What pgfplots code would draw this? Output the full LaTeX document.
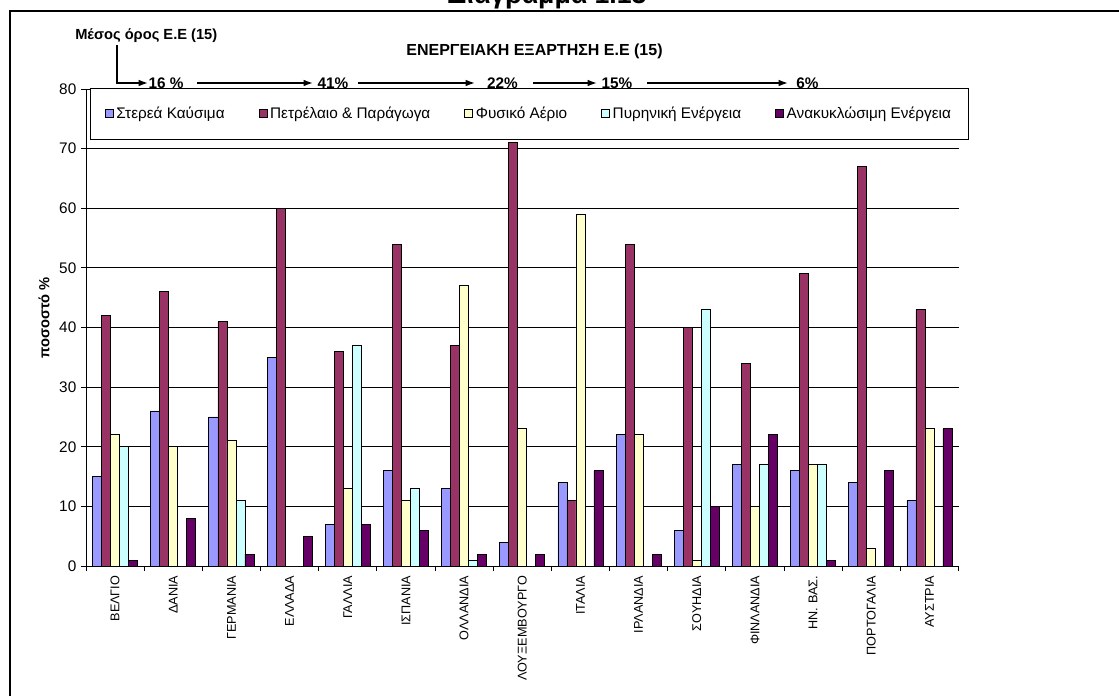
\documentclass[border=0pt]{standalone}
\usepackage{fontspec}
\setmainfont{Liberation Sans}
\usepackage{pgfplots}
\usepackage{pgfplotstable}
\pgfplotsset{compat=1.18}
\usetikzlibrary{arrows.meta}

\definecolor{solidfuel}{HTML}{9999FF}
\definecolor{oilprod}{HTML}{993366}
\definecolor{natgas}{HTML}{FFFFCC}
\definecolor{nuclear}{HTML}{CCFFFF}
\definecolor{renew}{HTML}{660066}

% energy dependence by source, % (EU-15)
\pgfplotstableread{
idx solid oil gas nuclear renew
0  15 42 22 20 1
1  26 46 20 0  8
2  25 41 21 11 2
3  35 60 0  0  5
4  7  36 13 37 7
5  16 54 11 13 6
6  13 37 47 1  2
7  4  71 23 0  2
8  14 11 59 0  16
9  22 54 22 0  2
10 6  40 1  43 10
11 17 34 10 17 22
12 16 49 17 17 1
13 14 67 3  0  16
14 11 43 23 0  23
}\energy

\begin{document}
\begin{tikzpicture}
\useasboundingbox (0,0) rectangle (839.25pt,-521.25pt);

\begin{axis}[
  scale only axis,
  width=654.4pt, height=357.75pt,
  at={(64.5pt,-424.5pt)}, anchor=south west,
  xmin=-0.5, xmax=14.5, ymin=0, ymax=80,
  axis lines=left,
  axis line style={-, black, line width=0.75pt},
  ytick={0,10,...,80},
  ymajorgrids,
  major grid style={black, line width=0.7pt},
  tick align=outside,
  major tick length=3.75pt,
  minor tick length=3.75pt,
  tick style={black, line width=0.6pt},
  xtick={0,...,14},
  major x tick style={draw=none},
  minor xtick={-0.5,0.5,...,14.5},
  xticklabels={ΒΕΛΓΙΟ,ΔΑΝΙΑ,ΓΕΡΜΑΝΙΑ,ΕΛΛΑΔΑ,ΓΑΛΛΙΑ,ΙΣΠΑΝΙΑ,ΟΛΛΑΝΔΙΑ,ΛΟΥΞΕΜΒΟΥΡΓΟ,ΙΤΑΛΙΑ,ΙΡΛΑΝΔΙΑ,ΣΟΥΗΔΙΑ,ΦΙΝΛΑΝΔΙΑ,{ΗΝ. ΒΑΣ.},ΠΟΡΤΟΓΑΛΙΑ,ΑΥΣΤΡΙΑ},
  x tick label style={rotate=90, anchor=east, font=\fontsize{9.5}{11}\selectfont},
  y tick label style={font=\fontsize{11.5}{13}\selectfont},
  /pgf/number format/assume math mode=true,
  legend columns=5,
  legend style={at={(0.0046,1.002)}, anchor=north west, draw=black, line width=0.5pt,
    font=\fontsize{11.5}{13}\selectfont, inner xsep=11pt, inner ysep=12pt,
    /tikz/every even column/.append style={column sep=23.5pt}},
  legend cell align=left,
  bars/.style={ybar, bar width=0.155, draw=black, line width=0.6pt,
    legend image code/.code={\draw[fill=##1, draw=black, line width=0.6pt] (0pt,-3pt) rectangle (6pt,3pt);}},
]
\addplot[bars=solidfuel, fill=solidfuel, bar shift=-0.31] table[x=idx, y=solid] {\energy};
\addlegendentry{Στερεά Καύσιμα}
\addplot[bars=oilprod, fill=oilprod, bar shift=-0.155] table[x=idx, y=oil] {\energy};
\addlegendentry{Πετρέλαιο \& Παράγωγα}
\addplot[bars=natgas, fill=natgas, bar shift=0] table[x=idx, y=gas] {\energy};
\addlegendentry{Φυσικό Αέριο}
\addplot[bars=nuclear, fill=nuclear, bar shift=0.155] table[x=idx, y=nuclear] {\energy};
\addlegendentry{Πυρηνική Ενέργεια}
\addplot[bars=renew, fill=renew, bar shift=0.31] table[x=idx, y=renew] {\energy};
\addlegendentry{Ανακυκλώσιμη Ενέργεια}
\end{axis}

\begin{scope}[x=0.75pt, y=-0.75pt]
  % page frame
  \draw[line width=1.8pt] (10,800) -- (10,11) -- (1300,11);
  % figure caption
  \node[font=\bfseries\fontsize{20}{24}\selectfont, anchor=base, inner sep=0] at (547,3.5) {Διάγραμμα 1.13};
  % chart title
  \node[font=\bfseries\fontsize{12}{14}\selectfont, anchor=base, inner sep=0] at (534.5,56) {ΕΝΕΡΓΕΙΑΚΗ ΕΞΑΡΤΗΣΗ Ε.Ε (15)};
  % y axis title
  \node[font=\bfseries\fontsize{11}{13}\selectfont, rotate=90, inner sep=0] at (44,318) {ποσοστό \%};
  % EU-15 average annotation
  \node[font=\bfseries\fontsize{11}{13}\selectfont, anchor=base west, inner sep=0] at (75,40) {Μέσος όρος Ε.Ε (15)};
  \draw[line width=1.1pt, -{Latex[length=7pt,width=5pt]}] (117,45) -- (117,83) -- (148,83);
  \begin{scope}[every node/.style={font=\bfseries\fontsize{11.5}{13}\selectfont, anchor=base, inner sep=0}]
    \node at (166,89) {16 \%};
    \node at (333,89) {41\%};
    \node at (502.5,89) {22\%};
    \node at (617,89) {15\%};
    \node at (807.5,89) {6\%};
  \end{scope}
  \draw[line width=1.1pt, -{Latex[length=7pt,width=5pt]}] (197,83) -- (313,83);
  \draw[line width=1.1pt, -{Latex[length=7pt,width=5pt]}] (358,83) -- (475,83);
  \draw[line width=1.1pt, -{Latex[length=7pt,width=5pt]}] (533,83) -- (597,83);
  \draw[line width=1.1pt, -{Latex[length=7pt,width=5pt]}] (647,83) -- (788,83);
\end{scope}
\end{tikzpicture}
\end{document}
